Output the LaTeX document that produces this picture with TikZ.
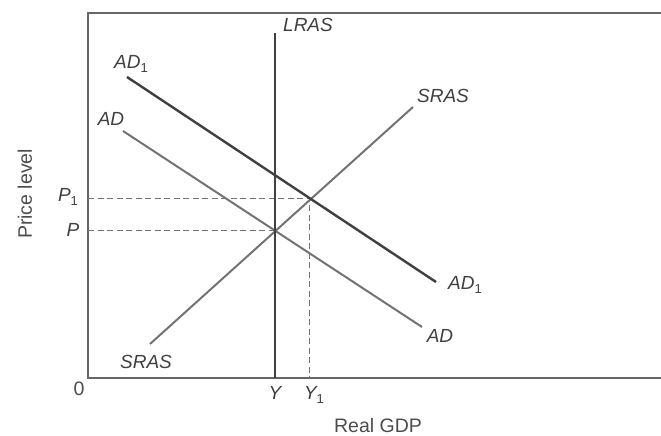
\documentclass[tikz,border=0pt]{standalone}
\usepackage{fontspec}
\setmainfont{Liberation Sans}
\newcommand\mysub[1]{\raisebox{-0.45ex}{\fontsize{13}{13}\selectfont\upshape #1}}
\begin{document}
\begin{tikzpicture}[x=1pt,y=-1pt,
  lbl/.style={font=\fontsize{19}{19}\selectfont\itshape, text=black!75, inner sep=0pt},
  axlbl/.style={font=\fontsize{19.5}{19.5}\selectfont, text=black!70, inner sep=0pt},
  axisline/.style={draw=black!60, line width=1.4pt},
  curve/.style={draw=black!55, line width=2pt},
  curvedark/.style={draw=black!75, line width=2.4pt},
  guide/.style={draw=black!55, line width=1.1pt, dash pattern=on 6pt off 3.5pt}]
\useasboundingbox (0,0) rectangle (661,436);
% frame
\coordinate (tl) at (88,13);
\coordinate (tr) at (661,13);
\coordinate (bl) at (88,378);
\coordinate (br) at (661,378);
\draw[axisline] (tr) -- (tl) -- (bl) -- (br);
% curve end points
\coordinate (lrasT) at (275,33);
\coordinate (lrasB) at (275,378);
\coordinate (ad1A) at (127,77);
\coordinate (ad1B) at (436,282);
\coordinate (adA) at (123,131);
\coordinate (adB) at (422,327);
\coordinate (srasA) at (150,344);
\coordinate (srasB) at (413,107);
\coordinate (e1) at (309.5,198.5);
\coordinate (e0) at (275,230.5);
\coordinate (p1axis) at (88,198.5);
\coordinate (paxis) at (88,230.5);
\coordinate (y1axis) at (309.5,378);
% guides
\draw[guide] (p1axis) -- (e1) -- (y1axis);
\draw[guide] (paxis) -- (e0);
% curves
\draw[curve] (adA) -- (adB);
\draw[curve] (srasA) -- (srasB);
\draw[curvedark] (ad1A) -- (ad1B);
\draw[draw=black!75, line width=2pt] (lrasT) -- (lrasB);
% labels
\node[lbl] (lLRAS) at (308,25) {LRAS};
\node[lbl] (lAD1a) at (131,64) {AD\mysub{1}};
\node[lbl] (lADa) at (111,119) {AD};
\node[lbl] (lSRASa) at (443,96) {SRAS};
\node[lbl] (lSRASb) at (146,362) {SRAS};
\node[lbl] (lAD1b) at (465,285) {AD\mysub{1}};
\node[lbl] (lADb) at (440,336) {AD};
\node[lbl] (lP1) at (68,197) {P\mysub{1}};
\node[lbl] (lP) at (73,230) {P};
\node[lbl] (lY) at (275,393) {Y};
\node[lbl] (lY1) at (314,395) {Y\mysub{1}};
\node[axlbl] (l0) at (79,389) {0};
\node[axlbl, rotate=90] (lPrice) at (25,194) {Price level};
\node[axlbl] (lGDP) at (378,426) {Real GDP};
\end{tikzpicture}
\end{document}
